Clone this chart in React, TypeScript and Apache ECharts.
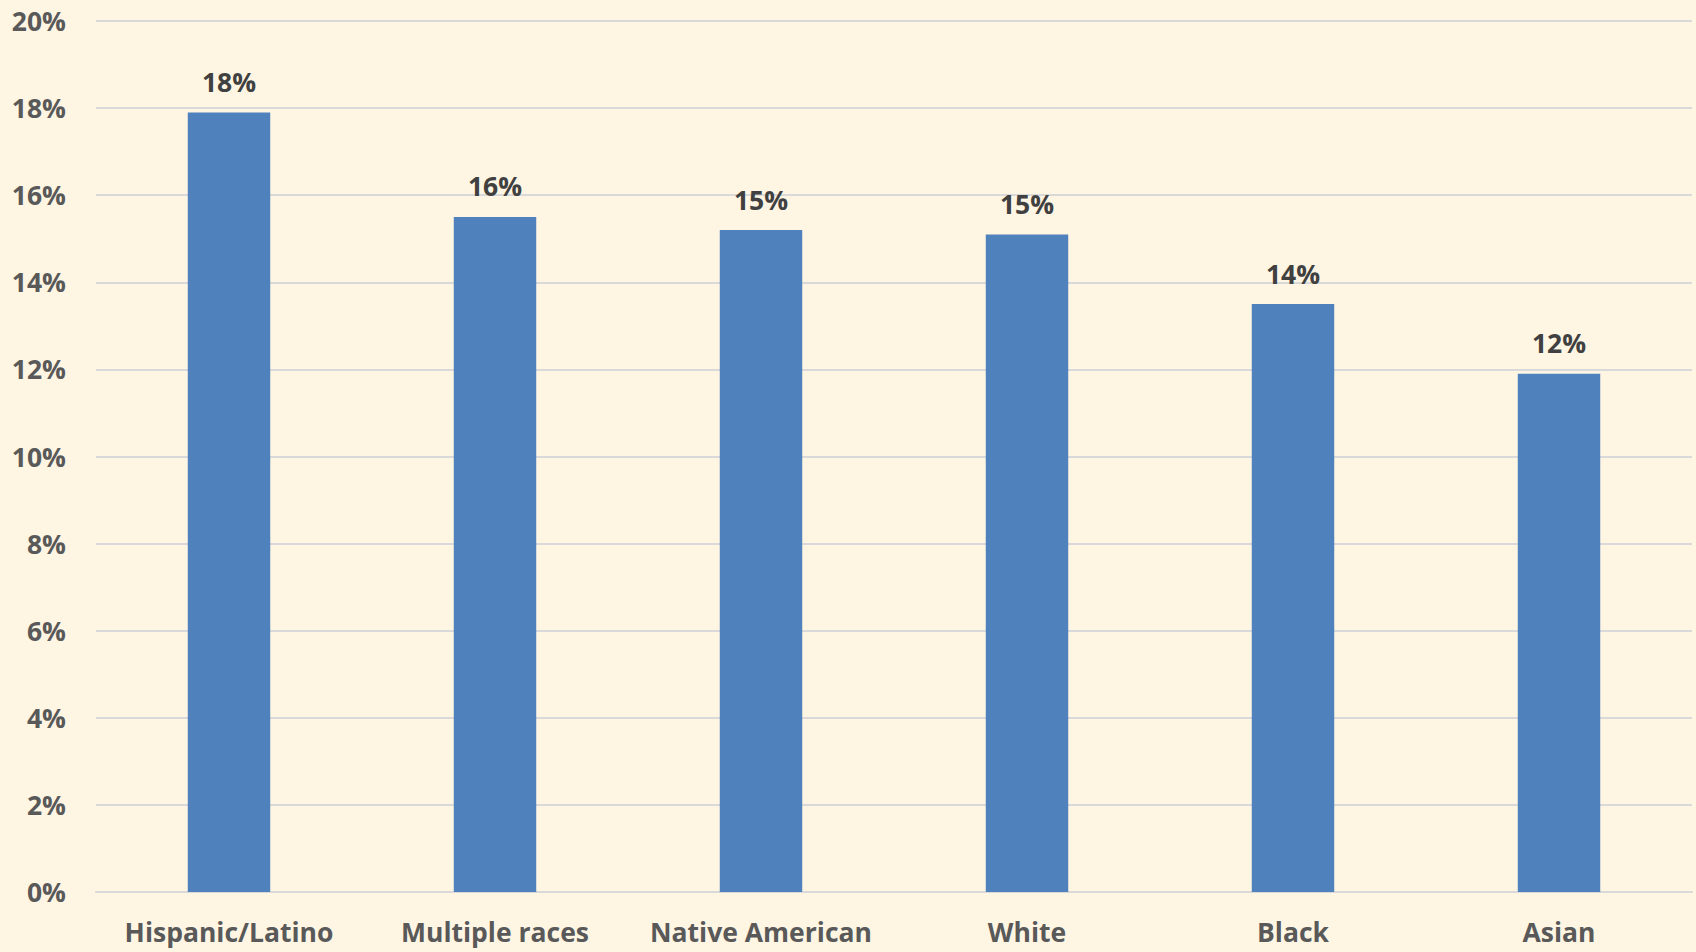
import React, { useEffect, useRef } from "react";
import * as echarts from "echarts";

const categories = ["Hispanic/Latino", "Multiple races", "Native American", "White", "Black", "Asian"];
const values = [17.9, 15.5, 15.2, 15.1, 13.5, 11.9];

const FONT = "'Open Sans', sans-serif";

export default function App() {
  const ref = useRef<HTMLDivElement>(null);
  useEffect(() => {
    if (!ref.current) return;
    const chart = echarts.init(ref.current, undefined, { renderer: "svg" });
    chart.setOption({
      animation: false,
      backgroundColor: "#FEF5E3",
      grid: { left: 96, right: 4, top: 21, bottom: 60, containLabel: false },
      xAxis: {
        type: "category",
        data: categories,
        axisLine: { show: true, lineStyle: { color: "#D9D9D9", width: 2 } },
        axisTick: { show: false },
        axisLabel: { interval: 0, hideOverlap: false, color: "#595959", fontFamily: FONT, fontWeight: "bold", fontSize: 26.5, margin: 26 },
      },
      yAxis: {
        type: "value",
        min: 0,
        max: 20,
        interval: 2,
        axisLine: { show: false },
        axisTick: { show: false },
        splitLine: { lineStyle: { color: "#D9D9D9", width: 2 } },
        axisLabel: { color: "#595959", fontFamily: FONT, fontWeight: "bold", fontSize: 26.5, margin: 30, formatter: "{value}%" },
      },
      series: [
        {
          type: "bar",
          data: values,
          barWidth: "31%",
          itemStyle: { color: "#4F81BD" },
          label: {
            show: true,
            position: "top",
            distance: 17,
            color: "#404040",
            fontFamily: FONT,
            fontWeight: "bold",
            fontSize: 26.5,
            formatter: (p: any) => Math.round(p.value) + "%",
          },
        },
      ],
    });
    return () => chart.dispose();
  }, []);
  return (
    <div
      ref={ref}
      style={{ position: "fixed", left: 0, top: 0, width: 1696, height: 952, background: "#FEF5E3" }}
    />
  );
}
